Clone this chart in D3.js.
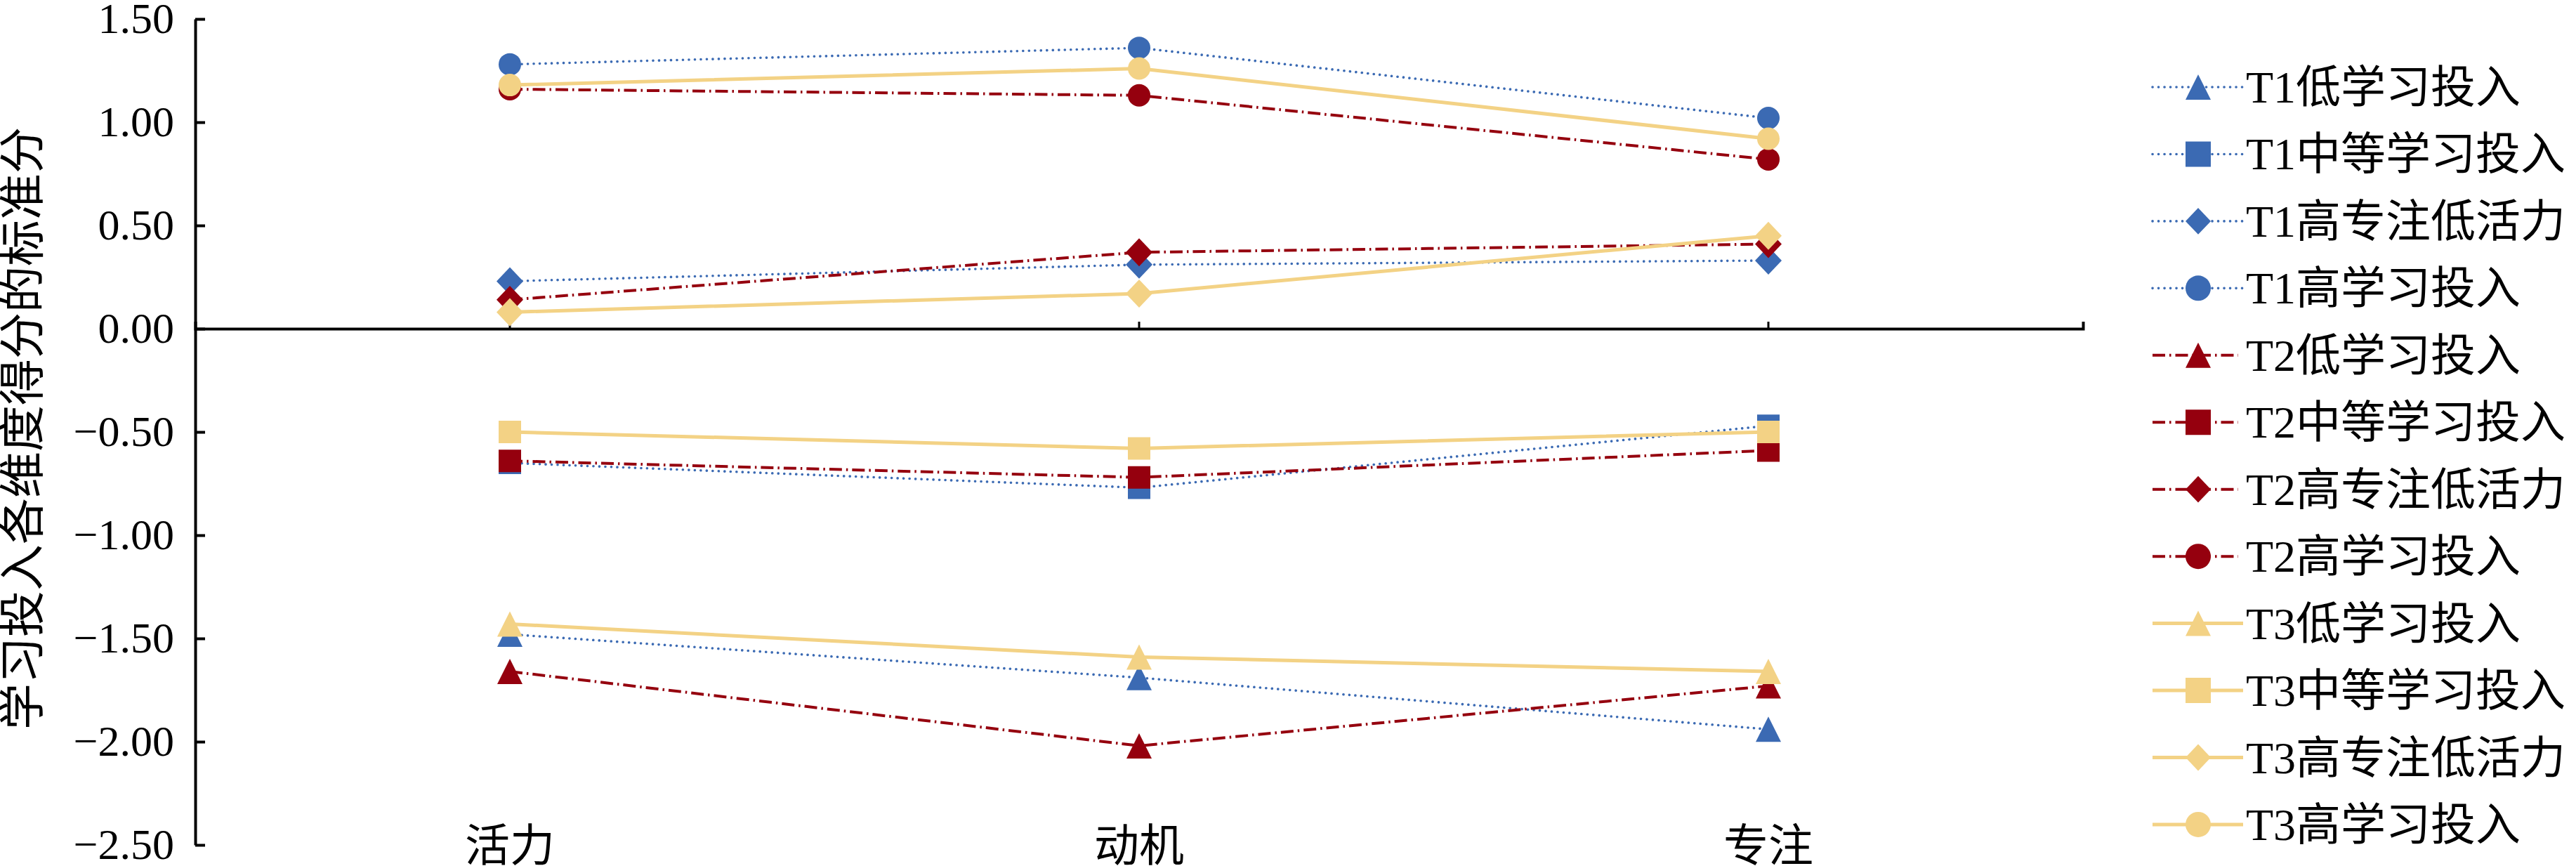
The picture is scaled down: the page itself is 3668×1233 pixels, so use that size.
<!DOCTYPE html>
<html>
<head>
<meta charset="utf-8">
<script src="https://cdnjs.cloudflare.com/ajax/libs/d3/7.8.5/d3.min.js"></script>
<style>
  html, body { margin: 0; padding: 0; background: #fff; }
  svg { display: block; }
  text { font-family: "Liberation Serif", "Noto Sans CJK SC", serif; fill: #000; }
</style>
</head>
<body>
<script>
var width = 3668,
    height = 1233;

// categories on the x axis
var dimensions = ["活力", "动机", "专注"];

// y ticks
var yTicks = [1.5, 1.0, 0.5, 0.0, -0.5, -1.0, -1.5, -2.0, -2.5];

// series values
var t1Low = [-1.48, -1.69, -1.94];
var t1Mid = [-0.65, -0.77, -0.47];
var t1Focus = [0.23, 0.31, 0.33];
var t1High = [1.28, 1.36, 1.02];

var t2Low = [-1.66, -2.02, -1.73];
var t2Mid = [-0.64, -0.72, -0.59];
var t2Focus = [0.14, 0.37, 0.41];
var t2High = [1.16, 1.13, 0.82];

var t3Low = [-1.43, -1.59, -1.66];
var t3Mid = [-0.50, -0.58, -0.50];
var t3Focus = [0.08, 0.17, 0.45];
var t3High = [1.18, 1.26, 0.92];

var seriesNames = [
    "T1低学习投入", "T1中等学习投入", "T1高专注低活力", "T1高学习投入",
    "T2低学习投入", "T2中等学习投入", "T2高专注低活力", "T2高学习投入",
    "T3低学习投入", "T3中等学习投入", "T3高专注低活力", "T3高学习投入"
];
var seriesValues = [t1Low, t1Mid, t1Focus, t1High,
                    t2Low, t2Mid, t2Focus, t2High,
                    t3Low, t3Mid, t3Focus, t3High];
var shapes = ["triangle", "square", "diamond", "circle"];

var yTitle = "学习投入各维度得分的标准分";

// styles per wave (T1, T2, T3)
var waveStyle = [
    { color: "#3b6ab3", width: 3.6, dash: "0.1,8.4", cap: "round" },   // round dots
    { color: "#95000e", width: 4, dash: "18,6,2.5,6", cap: "butt" },   // dash-dot
    { color: "#f3d285", width: 5, dash: null, cap: "butt" }            // solid
];

var series = seriesNames.map(function (name, i) {
    return {
        name: name,
        wave: Math.floor(i / 4),
        shape: shapes[i % 4],
        values: seriesValues[i].map(function (v, j) { return { cat: dimensions[j], value: v }; })
    };
});

var svg = d3.select("body")
    .append("svg")
    .attr("width", width)
    .attr("height", height);

var x = d3.scaleBand()
    .domain(dimensions)
    .range([278, 2966])
    .padding(0);

var y = d3.scaleLinear()
    .domain([-2.5, 1.5])
    .range([1203, 27]);

function markerPath(shape, s) {
    // s is the overall size of the marker box
    var h = s / 2;
    if (shape === "circle") {
        return "M" + (-h) + ",0A" + h + "," + h + " 0 1,0 " + h + ",0A" + h + "," + h + " 0 1,0 " + (-h) + ",0Z";
    }
    if (shape === "square") {
        return "M" + (-h) + "," + (-h) + "H" + h + "V" + h + "H" + (-h) + "Z";
    }
    if (shape === "diamond") {
        return "M0," + (-h * 1.05) + "L" + h + ",0L0," + (h * 1.05) + "L" + (-h) + ",0Z";
    }
    // triangle
    return "M0," + (-h) + "L" + h + "," + h + "L" + (-h) + "," + h + "Z";
}

var markerSize = { circle: 32, square: 32, diamond: 38, triangle: 36 };

// y axis (ticks point inward)
var yAxis = svg.append("g")
    .attr("transform", "translate(278,0)")
    .call(d3.axisLeft(y)
        .tickValues(yTicks)
        .tickSize(-14)
        .tickSizeOuter(0)
        .tickPadding(30)
        .tickFormat(d3.format(".2f")));
yAxis.select(".domain").attr("stroke", "#000").attr("stroke-width", 4);
yAxis.selectAll(".tick line").attr("stroke", "#000").attr("stroke-width", 4);
yAxis.selectAll(".tick text")
    .attr("font-size", 62)
    .style("font-family", "'Liberation Serif', serif");

// x axis at y = 0
var xAxis = svg.append("g")
    .attr("transform", "translate(0," + y(0) + ")")
    .call(d3.axisBottom(x)
        .tickSize(-10)
        .tickSizeOuter(-10)
        .tickFormat(""));
xAxis.select(".domain").attr("stroke", "#000").attr("stroke-width", 4).attr("fill", "none");
xAxis.selectAll(".tick line").attr("stroke", "#000").attr("stroke-width", 3);

// category labels at the bottom
svg.append("g")
    .selectAll("text")
    .data(dimensions)
    .enter().append("text")
    .attr("x", function (d) { return x(d) + x.bandwidth() / 2; })
    .attr("y", 1226)
    .attr("text-anchor", "middle")
    .attr("font-size", 64)
    .style("font-family", "'Noto Sans CJK SC', sans-serif")
    .text(function (d) { return d; });

// y title
svg.append("text")
    .attr("transform", "translate(55,610) rotate(-90)")
    .attr("text-anchor", "middle")
    .attr("font-size", 66)
    .style("font-family", "'Noto Sans CJK SC', sans-serif")
    .text(yTitle);

var line = d3.line()
    .x(function (d) { return x(d.cat) + x.bandwidth() / 2; })
    .y(function (d) { return y(d.value); });

var plot = svg.append("g");

series.forEach(function (s) {
    var st = waveStyle[s.wave];
    var g = plot.append("g").attr("class", "series");
    g.append("path")
        .datum(s.values)
        .attr("d", line)
        .attr("fill", "none")
        .attr("stroke", st.color)
        .attr("stroke-width", st.width)
        .attr("stroke-linecap", st.cap)
        .attr("stroke-dasharray", st.dash);
    g.selectAll(".marker")
        .data(s.values)
        .enter().append("path")
        .attr("class", "marker")
        .attr("transform", function (d) {
            return "translate(" + (x(d.cat) + x.bandwidth() / 2) + "," + y(d.value) + ")";
        })
        .attr("d", markerPath(s.shape, markerSize[s.shape]))
        .attr("fill", st.color);
});

// legend
var legend = svg.append("g")
    .selectAll("g")
    .data(series)
    .enter().append("g")
    .attr("transform", function (d, i) { return "translate(3065," + (124 + i * 95.45) + ")"; });

legend.append("line")
    .attr("x1", 0)
    .attr("x2", function (d) { return d.wave === 1 ? 122 : 129; })
    .attr("y1", 0)
    .attr("y2", 0)
    .attr("stroke", function (d) { return waveStyle[d.wave].color; })
    .attr("stroke-width", function (d) { return waveStyle[d.wave].width; })
    .attr("stroke-linecap", function (d) { return waveStyle[d.wave].cap; })
    .attr("stroke-dasharray", function (d) { return waveStyle[d.wave].dash; });

legend.append("path")
    .attr("transform", "translate(65,0)")
    .attr("d", function (d) { return markerPath(d.shape, d.shape === "diamond" ? 36 : 36); })
    .attr("fill", function (d) { return waveStyle[d.wave].color; });

legend.append("text")
    .attr("x", 133)
    .attr("y", 22)
    .attr("font-size", 64)
    .text(function (d) { return d.name; });
</script>
</body>
</html>
